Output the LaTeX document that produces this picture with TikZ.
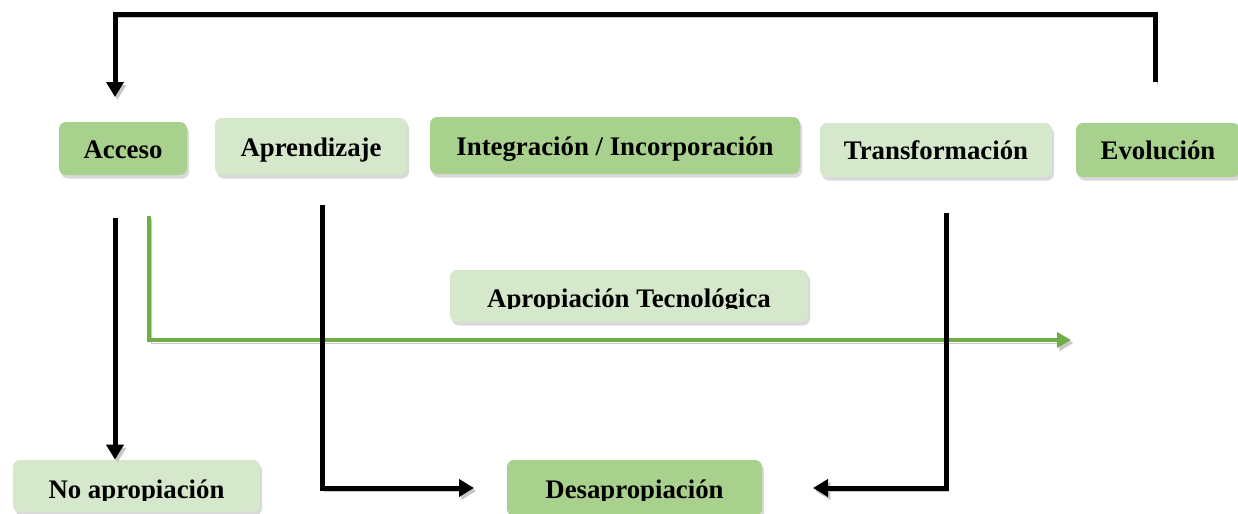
\documentclass[tikz,border=0pt]{standalone}
\usepackage{fontspec}
\setmainfont{Liberation Serif}
\usetikzlibrary{arrows.meta,shadows}
\definecolor{verdeosc}{HTML}{A9D18E}
\definecolor{verdecla}{HTML}{D5E8CB}
\definecolor{verdelin}{HTML}{70AD47}
\begin{document}
\begin{tikzpicture}[x=0.5pt,y=-0.5pt,
	>={Triangle[length=7.5pt,width=8.5pt]},
	texto/.style={inner sep=0pt,font=\fontsize{13.4}{16}\selectfont\bfseries},
	caja/.style={texto,text height=9.5pt,text depth=0pt,rounded corners=3.5pt,drop shadow={shadow xshift=1pt,shadow yshift=-1.8pt,opacity=.3}},
	oscura/.style={caja,fill=verdeosc},
	clara/.style={caja,fill=verdecla},
	sombra/.style={preaction={draw=black!22,transform canvas={shift={(1.2pt,-1.5pt)}}}},
	flecha/.style={sombra,line width=2.5pt,->},
	flechaverde/.style={sombra,line width=2pt,draw=verdelin,-{Triangle[length=7pt,width=7.5pt]}}]
	
	\useasboundingbox (0,0) rectangle (1238,514);
	
	% fila de etapas
	\node[oscura,minimum width=64pt,minimum height=26.5pt] (acceso) at (123,148.5) {Acceso};
	\node[clara,minimum width=96pt,minimum height=28.5pt] (aprendizaje) at (311,146.5) {Aprendizaje};
	\node[oscura,minimum width=185pt,minimum height=28.5pt] (integracion) at (615,145.5) {Integración / Incorporación};
	\node[clara,minimum width=116pt,minimum height=27pt] (transformacion) at (936,150) {Transformación};
	\node[oscura,minimum width=82pt,minimum height=27pt] (evolucion) at (1158,150) {Evolución};
	
	% cajas con texto recortado
	\node[clara,minimum width=179pt,minimum height=26pt] (apropiacion) at (629,296) {};
	\begin{scope}
		\clip (450,270) rectangle (808,308);
		\node[texto,anchor=base] (apropiaciontxt) at (629,307) {Apropiación Tecnológica};
	\end{scope}
	\node[clara,minimum width=123.5pt,minimum height=26pt] (noapropiacion) at (136.5,486) {};
	\begin{scope}
		\clip (13,460) rectangle (260,500);
		\node[texto,anchor=base] (noapropiaciontxt) at (136.5,498) {No apropiación};
	\end{scope}
	\node[oscura,minimum width=127.5pt,minimum height=28pt] (desapropiacion) at (634.5,488) {};
	\begin{scope}
		\clip (507,460) rectangle (762,500);
		\node[texto,anchor=base] (desapropiaciontxt) at (634.5,498) {Desapropiación};
	\end{scope}
	
	% puntos de los conectores
	\coordinate (retorno) at (1155,82);
	\coordinate (llegada) at (115,97);
	\coordinate (acc) at (115,218);
	\coordinate (ver) at (149,216);
	\coordinate (verfin) at (1071,340);
	\coordinate (apr) at (322,205);
	\coordinate (aprfin) at (474,488);
	\coordinate (tra) at (946,213);
	\coordinate (trafin) at (813,488);
	
	\draw[flechaverde] (ver) |- (verfin);
	\draw[flecha] (retorno) -- ++(0,-68) -| (llegada);
	\draw[flecha] (acc) -- (acc |- noapropiacion.north);
	\draw[flecha] (apr) |- (aprfin);
	\draw[flecha] (tra) |- (trafin);
	
\end{tikzpicture}
\end{document}
